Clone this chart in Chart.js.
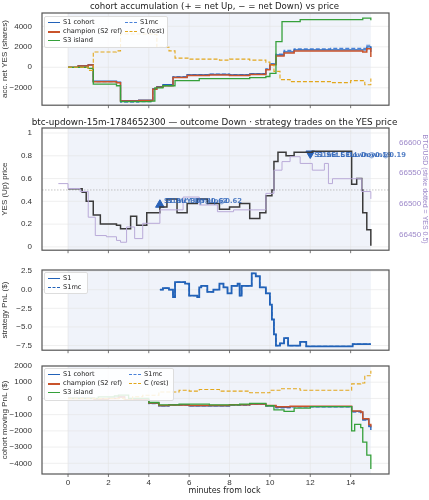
<!DOCTYPE html>
<html><head><meta charset="utf-8">
<script src="https://cdn.jsdelivr.net/npm/chart.js@4/dist/chart.umd.min.js"></script>
<style>
body{margin:0;background:#fff;font-family:"DejaVu Sans",sans-serif;}
#wrap{position:relative;width:429px;height:500px;}
.cw{position:absolute;left:0;width:429px;}
.t{position:absolute;font-size:8.6px;color:#222;white-space:nowrap;text-align:center;width:429px;left:0;}
.lg{position:absolute;background:rgba(255,255,255,0.85);border:1px solid #ddd;border-radius:2px;font-size:6.6px;color:#222;}
.it{position:absolute;white-space:nowrap;}
.ln{position:absolute;width:12px;height:0;}
</style></head><body>
<div id="wrap">
<div class="cw" style="top:0;height:112px"><canvas id="c1" width="429" height="112"></canvas></div>
<div class="cw" style="top:112px;height:145px"><canvas id="c2" width="429" height="145"></canvas></div>
<div class="cw" style="top:257px;height:100px"><canvas id="c3" width="429" height="100"></canvas></div>
<div class="cw" style="top:357px;height:143px"><canvas id="c4" width="429" height="143"></canvas></div>
<div class="t" style="top:1px">cohort accumulation (+ = net Up, − = net Down) vs price</div>
<div class="t" style="top:117px;font-size:8.8px">btc-updown-15m-1784652300 — outcome Down · strategy trades on the YES price</div>
<div class="t" style="top:486px;left:10px;font-size:8px">minutes from lock</div>
</div>
<script>
// ---------- data ----------
const xTicks=[0,2,4,6,8,10,12,14];
// panel 1: accumulated net YES (shares)
const accS1T=[0,0.5,1,1.25,2.4,2.6,3.5,4.2,4.4,4.7,5.2,5.9,7,8,9,9.8,10,10.3,10.7,11.2,13,14.6,14.8,15];
const accS1V=[0,150,250,-1350,-1450,-3250,-3200,-2100,-1900,-1700,-950,-750,-700,-750,-650,-200,300,1200,1500,1700,1700,1700,2000,1500];
const accMcT=[0,0.5,1,1.25,2.4,2.6,3.5,4.2,4.4,4.7,5.2,5.9,7,8,9,9.8,10,10.3,10.7,11.2,13,14.6,14.8,15];
const accMcV=[0,150,250,-1400,-1500,-3400,-3350,-2100,-1900,-1800,-900,-700,-650,-700,-600,-150,350,1300,1650,1800,1850,1850,2150,1800];
const accChT=[0,0.5,1,1.25,2.4,2.6,3.5,4.2,4.4,4.7,5.2,5.9,7,8,9,9.8,10,10.3,10.7,11.2,13,14.6,14.8,15];
const accChV=[0,130,230,-1400,-1500,-3300,-3250,-2150,-1950,-1800,-1000,-800,-750,-800,-700,-250,250,1100,1400,1600,1600,1500,1800,1000];
const accS3T=[0,1,1.25,2.4,2.6,4.1,4.3,4.7,5.3,6.5,9,9.8,10,10.3,10.6,11.5,13,14.6,15];
const accS3V=[0,-100,-1650,-1800,-3350,-3300,-2000,-1800,-1300,-1100,-1000,-900,-600,2500,4450,4650,4650,4800,4600];
const accCT=[0,1,1.25,2.4,2.6,4.2,4.4,5,5.3,6,7.5,8,9,9.8,10,10.2,10.5,11,13,14,14.7,15];
const accCV=[0,-300,1500,1600,3250,3200,1950,1600,900,800,700,800,700,500,200,-400,-1200,-1400,-1500,-1300,-1700,-1100];
// panel 2: YES price and BTC
const yesT=[0,0.7,0.9,1.25,1.6,2.4,2.6,3.1,3.4,3.9,4.55,4.9,5.4,5.9,6.4,6.9,7.5,8,8.5,9,9.5,9.8,10.1,10.2,10.4,10.8,11.2,12.1,14,14.05,14.3,14.55,14.6,14.8,15];
const yesV=[0.51,0.48,0.40,0.28,0.20,0.19,0.16,0.27,0.19,0.30,0.35,0.42,0.30,0.38,0.42,0.38,0.33,0.35,0.38,0.25,0.30,0.45,0.50,0.75,0.83,0.80,0.83,0.84,0.84,0.55,0.60,0.50,0.30,0.15,0.01];
const btcT=[-0.48,0,0.6,1,1.35,1.9,2.4,2.6,2.9,3.3,3.7,4.55,5.2,5.7,6.5,7.4,8.2,9.2,9.8,10.2,10.6,11,11.5,12.1,12.7,12.9,13.1,14.05,14.55,15];
const btcV=[66533,66525,66520,66478,66448,66446,66440,66437,66462,66443,66468,66490,66490,66511,66498,66487,66490,66490,66517,66555,66569,66577,66566,66555,66566,66533,66541,66541,66520,66508];
const tradeT=[4.55,12.0];
const tradeV=[0.37,0.82];
const tradeLbl=[["S1 BUY Up@0.62","S1mc BUY Up@0.62"],["S1 SELL Down@0.19","S1mc SELL Down@0.19"]];
// panel 3: strategy PnL
const pnlT=[4.55,4.7,5.0,5.2,5.3,5.8,6.0,6.4,6.5,6.6,6.9,7.2,7.5,7.7,7.9,8.1,8.4,8.5,8.6,8.8,9.1,9.3,9.5,9.8,10.0,10.1,10.2,10.3,10.5,10.7,10.9,11.5,11.8,14.0,14.1,15];
const pnlV=[0,0.2,0,-1.0,1.0,0.8,-0.8,-1.0,0.3,0.5,-0.3,0,0.8,0.3,-0.5,0.5,0.8,-0.8,0.5,0.5,2.2,1.8,0.3,-0.5,-2,-4,-6,-7.5,-7.2,-6.5,-7.5,-7.0,-7.6,-7.6,-7.3,-7.3];
// panel 4: cohort moving PnL
const mpS1T=[0,1,1.3,2,2.5,2.8,3.2,3.6,4,4.5,5,6,7,8,9,9.8,10.3,11,12,14,14.05,14.5,14.6,14.9,15];
const mpS1V=[0,0,-50,0,100,-100,-50,-100,-300,-450,-400,-450,-450,-400,-350,-450,-550,-500,-500,-500,-800,-850,-1300,-1700,-1950];
const mpChV=[0,0,-40,0,90,-90,-40,-90,-280,-430,-400,-440,-440,-390,-340,-440,-520,-480,-480,-480,-780,-830,-1250,-1600,-1750];
const mpMcV=[0,0,-60,0,110,-110,-60,-110,-320,-470,-420,-460,-460,-410,-360,-470,-580,-520,-520,-520,-850,-900,-1350,-1750,-1950];
const mpS3T=[0,1.5,2.3,2.5,3,4,4.5,5.5,7,8.5,9,9.8,10.2,10.7,11.2,12,14,14.05,14.2,14.5,14.6,14.8,15];
const mpS3V=[0,100,150,200,0,-250,-400,-350,-400,-350,-300,-450,-700,-800,-600,-500,-500,-2000,-1600,-1800,-2700,-3500,-4350];
const mpCT=[0,2.5,2.8,3.2,3.7,4.5,5.5,6,6.5,7.5,9,10,10.5,11.5,14,14.05,14.5,14.7,15];
const mpCV=[0,0,-100,100,200,400,500,450,550,450,350,500,600,500,500,900,950,1400,1700];

// ---------- helpers ----------
const zip=(t,v)=>t.map((x,i)=>({x,y:v[i]}));
const C={s1:'#2262b8',mc:'#4a82d8',ch:'#c9532b',s3:'#35a03a',c:'#e2a71c',k:'#3a3a3a',btc:'#b9aad8'};
const XMIN=-1.29,XMAX=15.9;
const deco={id:'deco',
 beforeDatasetsDraw(ch){const a=ch.chartArea,x=ch.scales.x,g=ch.ctx;g.save();
  g.fillStyle='#f0f3fa';const x0=x.getPixelForValue(0),x1=x.getPixelForValue(15);
  g.fillRect(x0,a.top,x1-x0,a.bottom-a.top);
  g.strokeStyle='#e4e4e4';g.lineWidth=0.6;
  ch.scales.y.ticks.forEach(t=>{const p=ch.scales.y.getPixelForValue(t.value);g.beginPath();g.moveTo(a.left,p);g.lineTo(a.right,p);g.stroke();});
  xTicks.forEach(t=>{const p=x.getPixelForValue(t);g.beginPath();g.moveTo(p,a.top);g.lineTo(p,a.bottom);g.stroke();});
  g.restore();},
 afterDraw(ch){const a=ch.chartArea,g=ch.ctx;g.save();g.strokeStyle='#555';g.lineWidth=1.2;g.strokeRect(a.left,a.top,a.right-a.left,a.bottom-a.top);
  g.strokeStyle='#555';g.lineWidth=0.8;xTicks.forEach(t=>{const p=ch.scales.x.getPixelForValue(t);g.beginPath();g.moveTo(p,a.bottom);g.lineTo(p,a.bottom+3);g.stroke();});
  g.restore();}
};
function xScale(show){return {type:'linear',min:XMIN,max:XMAX,grid:{display:false,drawTicks:false},border:{display:false},
 afterBuildTicks(s){s.ticks=xTicks.map(v=>({value:v}));},
 ticks:{display:show,color:'#333',font:{size:8},padding:4,autoSkip:false,maxRotation:0},
 afterFit(s){s.height=show?14:4;}};}
function yScale(min,max,ticks,title,w){return {type:'linear',min,max,grid:{display:false},border:{display:false},
 afterBuildTicks(s){s.ticks=ticks.map(v=>({value:v}));},
 ticks:{color:'#333',font:{size:8},padding:2,callback:v=>String(v).replace('-','−')},
 title:{display:true,text:title,color:'#333',font:{size:8},padding:0},
 afterFit(s){s.width=w;}};}
function ds(data,color,dash,w,extra){return Object.assign({data,borderColor:color,borderWidth:w||1.3,borderDash:dash||[],pointRadius:0,stepped:true,fill:false},extra||{});}
const base={responsive:false,animation:false,events:[],plugins:{legend:{display:false},tooltip:{enabled:false}}};
function mk(id,datasets,scales,pad,plugins){return new Chart(document.getElementById(id),{type:'line',data:{datasets},
 options:Object.assign({},base,{layout:{padding:pad},scales}),plugins:[deco].concat(plugins||[])});}

// panel 1
mk('c1',[
 ds(zip(accCT,accCV),C.c,[4,2],1.1),
 ds(zip(accS3T,accS3V),C.s3,null,1.3),
 ds(zip(accChT,accChV),C.ch,null,1.5),
 ds(zip(accS1T,accS1V),C.s1,null,1.3),
 ds(zip(accMcT,accMcV),C.mc,[4,2],1.1)
],{x:xScale(false),y:yScale(-3700,5300,[-2000,0,2000,4000],'acc. net YES (shares)',42)},{top:13,left:0,right:40});

// panel 2
const tradeLabels={id:'tl',afterDatasetsDraw(ch){const g=ch.ctx,x=ch.scales.x,y=ch.scales.y;g.save();g.font='bold 6.8px "DejaVu Sans"';g.fillStyle='#2a62b8';
 tradeT.forEach((t,i)=>{const px=x.getPixelForValue(t)+4,py=y.getPixelForValue(tradeV[i])+(i?3:-2);
  tradeLbl[i].forEach((s,j)=>{g.globalAlpha=0.8;g.fillText(s,px+j*3,py+j*0.5);});});g.restore();}};
const half={id:'half',beforeDatasetsDraw(ch){const g=ch.ctx,a=ch.chartArea,p=ch.scales.y.getPixelForValue(0.5);g.save();g.strokeStyle='#aaa';g.lineWidth=0.7;g.setLineDash([1.5,1.5]);g.beginPath();g.moveTo(a.left,p);g.lineTo(a.right,p);g.stroke();g.restore();}};
const y2=yScale(66424,66624,[66450,66500,66550,66600],'BTC/USD (strike dotted = YES 0.5)',40);
y2.position='right';y2.ticks.color='#9d88c9';y2.title.color='#9d88c9';y2.title.font={size:7};
mk('c2',[
 ds(zip(btcT,btcV),C.btc,null,1.0,{yAxisID:'y2'}),
 ds(zip(yesT,yesV),C.k,null,1.5),
 {type:'scatter',data:[{x:tradeT[0],y:tradeV[0]}],pointStyle:'triangle',pointRadius:5,backgroundColor:'#2a62b8',borderColor:'#2a62b8',showLine:false},
 {type:'scatter',data:[{x:tradeT[1],y:tradeV[1]}],pointStyle:'triangle',rotation:180,pointRadius:5,backgroundColor:'#2a62b8',borderColor:'#2a62b8',showLine:false}
],{x:xScale(false),y:yScale(-0.029,1.044,[0,0.2,0.4,0.6,0.8,1.0],'YES (Up) price',42),y2},{top:16,left:0,right:0},[half,tradeLabels]);

// panel 3
mk('c3',[
 ds(zip(pnlT,pnlV),C.s1,null,1.8),
 ds(zip(pnlT,pnlV),C.s1,[4,2],1.2)
],{x:xScale(false),y:yScale(-8.12,2.64,[-7.5,-5,-2.5,0,2.5],'strategy PnL ($)',42)},{top:13,left:0,right:40});
Chart.getChart('c3').options.scales.y.ticks.callback=v=>v.toFixed(1).replace('-','−');Chart.getChart('c3').update();

// panel 4
mk('c4',[
 ds(zip(mpCT,mpCV),C.c,[4,2],1.1),
 ds(zip(mpS3T,mpS3V),C.s3,null,1.3),
 ds(zip(mpS1T,mpChV),C.ch,null,1.5),
 ds(zip(mpS1T,mpS1V),C.s1,null,1.3),
 ds(zip(mpS1T,mpMcV),C.mc,[4,2],1.1)
],{x:xScale(true),y:yScale(-4660,2000,[-4000,-3000,-2000,-1000,0,1000,2000],'cohort moving PnL ($)',42)},{top:9,left:0,right:40,bottom:12});

// legends
function legend(x,y,w,h,items){const d=document.createElement('div');d.className='lg';d.style.cssText+=`left:${x}px;top:${y}px;width:${w}px;height:${h}px`;
 items.forEach(([lx,ly,col,dash,txt,lw])=>{const l=document.createElement('div');l.className='ln';l.style.cssText+=`left:${lx}px;top:${ly+4}px;border-top:${lw||1.4}px ${dash?'dashed':'solid'} ${col}`;d.appendChild(l);
  const t=document.createElement('div');t.className='it';t.style.cssText+=`left:${lx+15}px;top:${ly}px`;t.textContent=txt;d.appendChild(t);});
 document.getElementById('wrap').appendChild(d);}
legend(44,16,122,30,[[3,1,C.s1,0,'S1 cohort'],[3,10,C.ch,0,'champion (S2 ref)',2],[3,19,C.s3,0,'S3 island'],[80,1,C.mc,1,'S1mc'],[80,10,C.c,1,'C (rest)']]);
legend(44,272,42,20,[[3,1,C.s1,0,'S1',1.8],[3,10,C.s1,1,'S1mc',1.8]]);
legend(44,368,128,31,[[3,1,C.s1,0,'S1 cohort'],[3,10,C.ch,0,'champion (S2 ref)',2],[3,19,C.s3,0,'S3 island'],[84,1,C.mc,1,'S1mc'],[84,10,C.c,1,'C (rest)']]);
</script></body></html>
